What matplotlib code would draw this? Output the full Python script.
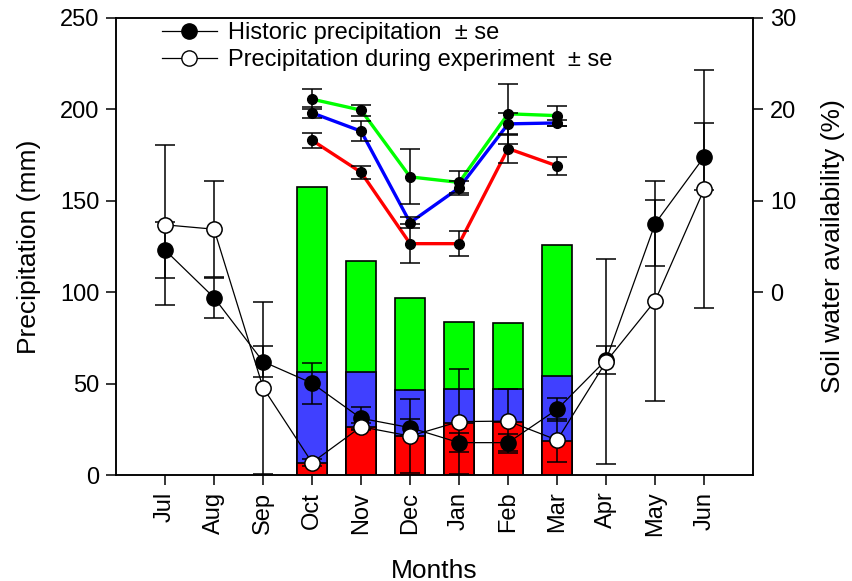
import numpy as np
import matplotlib
matplotlib.use('Agg')
import matplotlib.pyplot as plt
from matplotlib.lines import Line2D

plt.rcParams['font.family'] = ['Liberation Sans', 'DejaVu Sans']

months = ['Jul', 'Aug', 'Sep', 'Oct', 'Nov', 'Dec', 'Jan', 'Feb', 'Mar', 'Apr', 'May', 'Jun']

# monthly precipitation (mm)
hist = [123, 97, 62, 50.2, 31, 25.9, 17.7, 17.7, 35.9, 63, 137.5, 174]
hist_se = [15.2, 10.9, 8.5, 11.3, 6, 4.6, 5.3, 4.6, 6.2, 7.5, 23, 18.3]
exper = [136.8, 134.4, 47.8, 6.8, 26.4, 21.3, 29.2, 29.5, 19.1, 62, 95.3, 156.3]
exper_se = [43.7, 26.1, 47, 2, 2, 20, 28.8, 17.4, 11.8, 56, 55, 65]

# treatment bars, Oct-Mar (mm)
bar_months = ['Oct', 'Nov', 'Dec', 'Jan', 'Feb', 'Mar']
bar_green = [157.4, 117.2, 96.6, 83.5, 83.0, 126.0]
bar_blue = [56.5, 56.5, 46.5, 47.0, 47.0, 54.3]
bar_red = [6.4, 26.4, 21.3, 28.6, 29.2, 18.8]

# soil water availability (%), Oct-Mar
sw_green = [21.1, 19.9, 12.6, 12.0, 19.5, 19.3]
sw_green_se = [1.1, 0.6, 3.0, 1.2, 3.3, 1.1]
sw_blue = [19.6, 17.6, 7.6, 11.4, 18.4, 18.5]
sw_blue_se = [0.6, 1.1, 0.6, 0.8, 1.2, 0.3]
sw_red = [16.6, 13.1, 5.3, 5.3, 15.7, 13.8]
sw_red_se = [0.85, 0.7, 2.1, 1.4, 1.6, 0.95]

x = np.arange(len(months))
xb = np.array([months.index(m) for m in bar_months])

fig = plt.figure(figsize=(8.53, 5.81), dpi=100)
ax = fig.add_axes([0.136, 0.1824, 0.747, 0.787])
ax2 = ax.twinx()

# overlapping bars, tallest behind
ax.bar(xb, bar_green, width=0.6, color='#00ff00', edgecolor='black', linewidth=1.2, zorder=1)
ax.bar(xb, bar_blue, width=0.6, color='#4040ff', edgecolor='black', linewidth=1.2, zorder=2)
ax.bar(xb, bar_red, width=0.6, color='#ff0000', edgecolor='black', linewidth=1.2, zorder=3)

ekw = dict(ecolor='black', elinewidth=1.1, capsize=7.5, capthick=1.1)
ax.errorbar(x, hist, yerr=hist_se, fmt='-o', color='black', lw=0.9, ms=11,
            mfc='black', mec='black', zorder=4, **ekw)
ax.errorbar(x, exper, yerr=exper_se, fmt='-o', color='black', lw=0.9, ms=11,
            mfc='white', mec='black', mew=1.1, zorder=5, **ekw)

# soil water lines on the right axis
for vals, se, col in [(sw_red, sw_red_se, '#ff0000'),
                      (sw_blue, sw_blue_se, '#0000ff'),
                      (sw_green, sw_green_se, '#00ff00')]:
    ax2.plot(xb, vals, color=col, lw=2.4, zorder=2)
    ax2.errorbar(xb, vals, yerr=se, fmt='o', color='black', ms=7, zorder=3, **ekw)

ax.set_xlim(-1, 12)
ax.set_ylim(0, 250)
ax.set_yticks([0, 50, 100, 150, 200, 250])
ax.set_xticks(x)
ax.set_xticklabels(months, rotation=90)
ax2.set_ylim(-20, 30)
ax2.set_yticks([0, 10, 20, 30])

for a in (ax, ax2):
    a.tick_params(direction='out', length=7, width=1.1, labelsize=17, pad=5)
    for s in a.spines.values():
        s.set_linewidth(1.1)

ax.set_ylabel('Precipitation (mm)', fontsize=19, labelpad=14)
ax.set_xlabel('Months', fontsize=19, labelpad=16)
ax2.set_ylabel('Soil water availability (%)', fontsize=19, labelpad=18)

handles = [
    Line2D([], [], color='black', lw=0.9, marker='o', ms=11, mfc='black', mec='black'),
    Line2D([], [], color='black', lw=0.9, marker='o', ms=11, mfc='white', mec='black'),
]
ax.legend(handles, ['Historic precipitation  \u00b1 se', 'Precipitation during experiment  \u00b1 se'],
          loc='upper left', bbox_to_anchor=(0.069, 0.995), frameon=False, fontsize=17,
          handlelength=2.3, handletextpad=0.5, labelspacing=0.2, borderaxespad=0,
          borderpad=0.1)

fig.savefig('out.png', dpi=100)
